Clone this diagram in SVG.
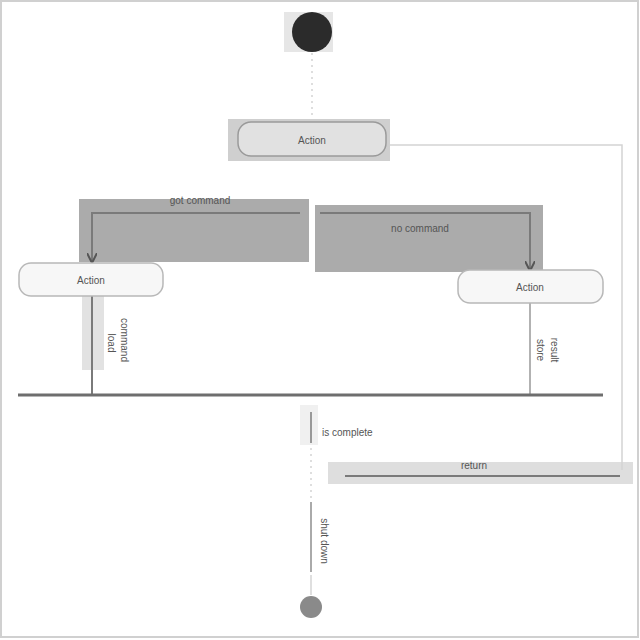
<svg xmlns="http://www.w3.org/2000/svg" width="640" height="640" viewBox="0 0 640 640">
<defs>
<style>
text{font-family:"Liberation Sans",Arial,sans-serif;font-size:10px;fill:#555}
.act{fill:#f7f7f7;stroke:#b8b8b8;stroke-width:1.5}
.conn{fill:none;stroke:#7a7a7a;stroke-width:2}
.faint{fill:none;stroke:#d4d4d4;stroke-width:1.5}
.hl{fill:#ababab}
.hl2{fill:#dedede}
</style>
<marker id="arr" viewBox="0 0 10 10" refX="9" refY="5" markerWidth="5" markerHeight="5" orient="auto">
<path d="M0,0 L10,5 L0,10" fill="none" stroke="#555" stroke-width="2"/>
</marker>
</defs>
<rect x="0" y="0" width="640" height="640" fill="#ffffff"/>
<rect x="1" y="1" width="637" height="636" fill="none" stroke="#d0d0d0" stroke-width="2"/>
<g id="highlights">
<rect x="79" y="199" width="230" height="63" class="hl"/>
<rect x="315" y="205" width="228" height="67" class="hl"/>
<rect x="328" y="462" width="305" height="22" class="hl2"/>
<rect x="82" y="296" width="22" height="74" fill="#e2e2e2"/>
<rect x="300" y="405" width="18" height="40" fill="#f0f0f0"/>
</g>
<g id="connectors">
<line x1="312" y1="53" x2="312" y2="120" class="faint" stroke-dasharray="2 4"/>
<path d="M390,145 L622,145 L622,470" class="faint"/>
<path d="M300,213 L92,213 L92,262" class="conn" marker-end="url(#arr)"/>
<text x="200" y="204" text-anchor="middle">got command</text>
<path d="M320,213 L530,213 L530,270" class="conn" marker-end="url(#arr)"/>
<text x="420" y="232" text-anchor="middle">no command</text>
<line x1="92" y1="296" x2="92" y2="395" class="conn" stroke="#999"/>
<text transform="translate(108,343) rotate(90)" text-anchor="middle">load</text>
<text transform="translate(121,340) rotate(90)" text-anchor="middle">command</text>
<line x1="530" y1="303" x2="530" y2="395" stroke="#999" stroke-width="1.5"/>
<text transform="translate(537,350) rotate(90)" text-anchor="middle">store</text>
<text transform="translate(551,350) rotate(90)" text-anchor="middle">result</text>
<line x1="18" y1="395" x2="603" y2="395" stroke="#6e6e6e" stroke-width="3"/>
<line x1="311" y1="412" x2="311" y2="443" stroke="#999" stroke-width="2"/>
<text x="322" y="436">is complete</text>
<line x1="311" y1="448" x2="311" y2="500" class="faint" stroke-dasharray="2 4"/>
<line x1="345" y1="476" x2="620" y2="476" class="conn" stroke="#888"/>
<text x="474" y="469" text-anchor="middle">return</text>
<line x1="311" y1="502" x2="311" y2="572" stroke="#aaa" stroke-width="2"/>
<text transform="translate(321,541) rotate(90)" text-anchor="middle">shut down</text>
<line x1="311" y1="575" x2="311" y2="595" class="faint"/>
</g>
<g id="start">
<rect x="284" y="12" width="49" height="40" fill="#e6e6e6"/>
<circle cx="312" cy="32" r="20" fill="#2b2b2b"/>
</g>
<g id="action-top">
<rect x="228" y="119" width="162" height="42" fill="#cfcfcf"/>
<rect x="238" y="122" width="148" height="34" rx="13" fill="#e1e1e1" stroke="#9a9a9a" stroke-width="1.5"/>
<text x="312" y="144" text-anchor="middle">Action</text>
</g>
<g id="action-left">
<rect x="19" y="263" width="144" height="33" rx="12" class="act"/>
<text x="91" y="284" text-anchor="middle">Action</text>
</g>
<g id="action-right">
<rect x="458" y="270" width="145" height="33" rx="12" class="act"/>
<text x="530" y="291" text-anchor="middle">Action</text>
</g>
<g id="end">
<circle cx="311" cy="607" r="11" fill="#8a8a8a"/>
</g>
</svg>
